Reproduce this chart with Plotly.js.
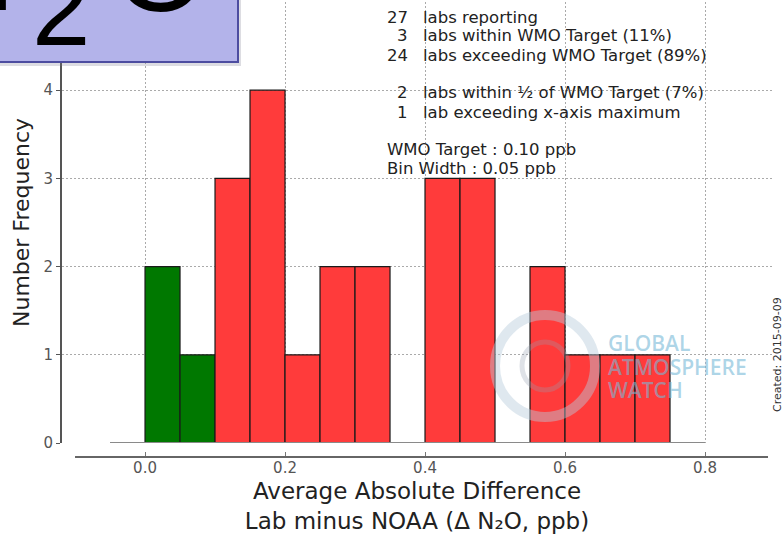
<!DOCTYPE html>
<html>
<head>
<meta charset="utf-8">
<script src="https://cdn.plot.ly/plotly-3.0.1.min.js"></script>
<style>html,body{margin:0;padding:0;background:#fff;}#chart{width:783px;height:534px;}</style>
</head>
<body>
<div id="chart"></div>
<script>
// ---- data ----
const binWidth = 0.05;
const wmoTarget = 0.10;
const binCenters = [0.025, 0.075, 0.125, 0.175, 0.225, 0.275, 0.325, 0.375, 0.425, 0.475, 0.525, 0.575, 0.625, 0.675, 0.725];
const counts     = [2, 1, 3, 4, 1, 2, 2, 0, 3, 3, 0, 2, 1, 1, 1];
const baselineX  = [-0.05, 0.80];
const baselineY  = [0, 0];
const xTickVals  = [0.0, 0.2, 0.4, 0.6, 0.8];
const xTickText  = ['0.0', '0.2', '0.4', '0.6', '0.8'];
const yTickVals  = [0, 1, 2, 3, 4, 5];
const yTickText  = ['0', '1', '2', '3', '4', ''];
const statNumbers = ['27', '3', '24', '2', '1'];
const statTexts   = ['labs reporting', 'labs within WMO Target (11%)', 'labs exceeding WMO Target (89%)',
                     'labs within ½ of WMO Target (7%)', 'lab exceeding x-axis maximum'];
const statRowsPx  = [18, 36, 55, 93, 112];
const infoTexts   = ['WMO Target : 0.10 ppb', 'Bin Width : 0.05 ppb'];
const infoRowsPx  = [150, 168];
const watermarkWords = ['GLOBAL', 'ATMOSPHERE', 'WATCH'];
const watermarkRowsPx = [343, 367, 390];

// ---- geometry helpers (pixel -> paper) ----
const L = 62, R = 11, T = 2, B = 77, W = 783, H = 534;
const PW = W - L - R, PH = H - T - B;
const px = x => (x - L) / PW;
const py = y => (H - B - y) / PH;

const barColors = binCenters.map(c => c < wmoTarget ? '#007800' : '#ff3b3b');

const traces = [
  { type: 'scatter', mode: 'lines', x: baselineX, y: baselineY,
    line: { color: '#8a8a8a', width: 2 }, hoverinfo: 'skip', showlegend: false },
  { type: 'bar', x: binCenters, y: counts, width: binWidth,
    marker: { color: barColors, line: { color: '#1a1a1a', width: 1.2 } }, showlegend: false }
];

const txtFont = { family: 'DejaVu Sans', size: 16.5, color: '#222' };
const annotations = [];
statNumbers.forEach((n, i) => {
  annotations.push({ xref: 'paper', yref: 'paper', x: px(409), y: py(statRowsPx[i]), xanchor: 'right', yanchor: 'middle',
    text: n, showarrow: false, font: txtFont, borderpad: 0 });
  annotations.push({ xref: 'paper', yref: 'paper', x: px(422), y: py(statRowsPx[i]), xanchor: 'left', yanchor: 'middle',
    text: statTexts[i], showarrow: false, font: txtFont, borderpad: 0 });
});
infoTexts.forEach((t, i) => {
  annotations.push({ xref: 'paper', yref: 'paper', x: px(386), y: py(infoRowsPx[i]), xanchor: 'left', yanchor: 'middle',
    text: t, showarrow: false, font: txtFont, borderpad: 0 });
});
watermarkWords.forEach((t, i) => {
  annotations.push({ xref: 'paper', yref: 'paper', x: px(606), y: py(watermarkRowsPx[i]), xanchor: 'left', yanchor: 'middle',
    text: t, showarrow: false, font: { family: 'Open Sans', size: 21, color: 'rgba(120,185,215,0.6)', weight: 600 } });
});
// Big N2O label in purple box
annotations.push({ xref: 'paper', yref: 'paper', x: px(-28), y: py(-32), xanchor: 'center', yanchor: 'middle',
  text: 'N', showarrow: false, font: { family: 'Liberation Sans', size: 120, color: '#000' } });
annotations.push({ xref: 'paper', yref: 'paper', x: px(61), y: py(9), xanchor: 'center', yanchor: 'middle',
  text: '2', showarrow: false, font: { family: 'Liberation Sans', size: 105, color: '#000' } });
annotations.push({ xref: 'paper', yref: 'paper', x: px(160), y: py(-31), xanchor: 'center', yanchor: 'middle',
  text: 'O', showarrow: false, font: { family: 'Liberation Sans', size: 120, color: '#000' } });
// Created date
annotations.push({ xref: 'paper', yref: 'paper', x: px(777), y: py(355), xanchor: 'center', yanchor: 'middle',
  text: 'Created: 2015-09-09', textangle: -90, showarrow: false, font: { family: 'DejaVu Sans', size: 11, color: '#333' } });

const shapes = [
  // offset bottom spine
  { type: 'line', xref: 'x', yref: 'paper', x0: -0.1, x1: 0.89, y0: 0, y1: 0, line: { color: '#666', width: 2 }, layer: 'above' },
  // GAW globe logo (faint)
  { type: 'circle', xref: 'paper', yref: 'paper', x0: px(495), x1: px(595), y0: py(417), y1: py(315),
    line: { color: 'rgba(185,205,220,0.45)', width: 10 }, layer: 'above' },
  { type: 'circle', xref: 'paper', yref: 'paper', x0: px(522), x1: px(568), y0: py(390), y1: py(342),
    line: { color: 'rgba(150,160,175,0.3)', width: 5 }, layer: 'above' },
  // purple title box shadow + box
  { type: 'rect', xref: 'paper', yref: 'paper', x0: px(-5), x1: px(241), y0: py(66), y1: py(-5),
    fillcolor: 'rgba(120,120,140,0.25)', line: { width: 0 }, layer: 'above' },
  { type: 'rect', xref: 'paper', yref: 'paper', x0: px(-5), x1: px(238), y0: py(62), y1: py(-5),
    fillcolor: '#b3b3ea', line: { color: '#4d4da0', width: 2 }, layer: 'above' }
];

const layout = {
  width: W, height: H,
  margin: { l: L, r: R, t: T, b: B, pad: 0 },
  paper_bgcolor: '#fff', plot_bgcolor: '#fff',
  font: { family: 'DejaVu Sans', color: '#222' },
  bargap: 0,
  xaxis: {
    range: [-0.1186, 0.8957], anchor: 'free', position: 0,
    tickvals: xTickVals, ticktext: xTickText,
    ticks: 'inside', ticklen: 5, tickcolor: '#777', tickwidth: 1,
    showline: false, zeroline: false,
    showgrid: true, gridcolor: '#aaaaaa', griddash: '1.5px,2.5px', gridwidth: 1,
    tickfont: { family: 'DejaVu Sans', size: 15, color: '#555' },
    title: { text: 'Average Absolute Difference<br>Lab minus NOAA (Δ N₂O, ppb)', standoff: 6,
             font: { family: 'DejaVu Sans', size: 23, color: '#222' } }
  },
  yaxis: {
    domain: [(H - B - 443) / PH, 1], range: [0, 5],
    tickvals: yTickVals, ticktext: yTickText,
    ticks: 'outside', ticklen: 4, tickcolor: '#555',
    showline: true, linecolor: '#555', linewidth: 2,
    zeroline: false,
    showgrid: true, gridcolor: '#aaaaaa', griddash: '1.5px,2.5px', gridwidth: 1,
    tickfont: { family: 'DejaVu Sans', size: 15, color: '#555' },
    title: { text: 'Number Frequency', standoff: 8, font: { family: 'DejaVu Sans', size: 22, color: '#222' } }
  },
  annotations: annotations,
  shapes: shapes
};

Plotly.newPlot('chart', traces, layout, { displayModeBar: false, staticPlot: true });
</script>
</body>
</html>
